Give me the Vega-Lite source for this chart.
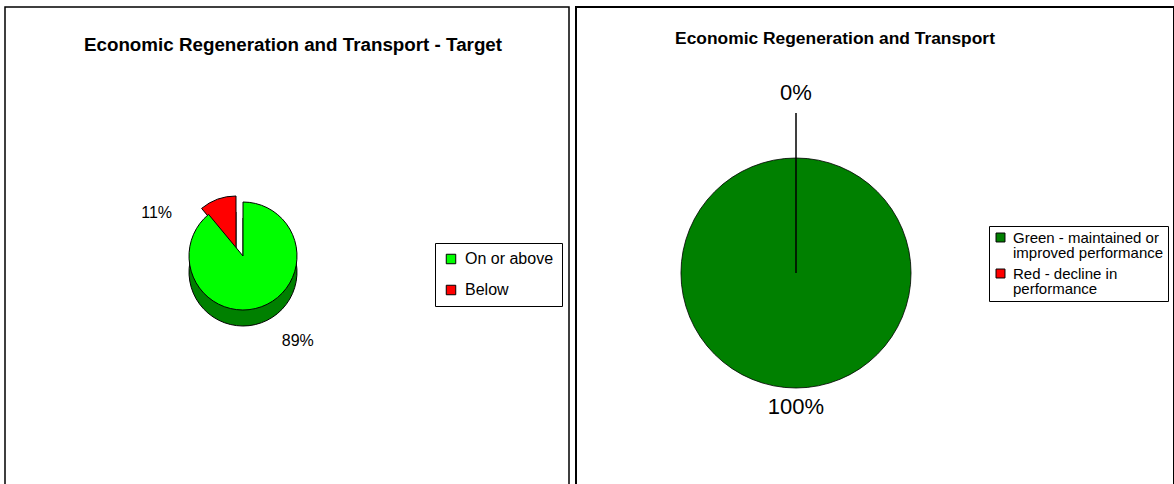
{
  "$schema": "https://vega.github.io/schema/vega-lite/v6.json",
  "padding": {"left": 4, "top": 6, "right": 0, "bottom": 0},
  "spacing": 5,
  "resolve": {"scale": {"color": "independent", "theta": "independent"}, "legend": {"color": "independent"}},
  "config": {
    "font": "Liberation Sans",
    "view": {"stroke": "black", "strokeWidth": 1.5},
    "title": {"font": "Liberation Sans", "fontWeight": "bold", "fontSize": 17, "color": "black"},
    "style": {"guide-label": {"lineHeight": 15}}
  },
  "datasets": {
    "target": [
      {"cat": "On or above", "pct": 89, "ord": 1, "label": "89%"},
      {"cat": "Below", "pct": 11, "ord": 2, "label": "11%"}
    ],
    "perf": [
      {"status": "Red - decline in performance", "pct": 0, "ord": 1, "label": "0%"},
      {"status": "Green - maintained or improved performance", "pct": 100, "ord": 2, "label": "100%"}
    ]
  },
  "hconcat": [
    {
      "width": 564,
      "height": 480,
      "data": {"name": "target"},
      "title": {"text": "Economic Regeneration and Transport - Target", "frame": "group", "offset": -48, "dx": 6, "fontSize": 18.8},
      "view": {"stroke": "black", "strokeWidth": 1.5},
      "layer": [
        {
          "mark": {"type": "arc", "radius": 54, "xOffset": -51, "yOffset": 19, "stroke": "black", "strokeWidth": 1, "fill": "#800000"},
          "encoding": {
            "theta": {"field": "pct", "type": "quantitative", "stack": true},
            "order": {"field": "ord"},
            "opacity": {"condition": {"test": "datum.cat === 'Below'", "value": 1}, "value": 0}
          }
        },
        {
          "mark": {"type": "arc", "radius": 54, "xOffset": -44, "yOffset": 25, "stroke": "black", "strokeWidth": 1, "fill": "#008000"},
          "encoding": {
            "theta": {"field": "pct", "type": "quantitative", "stack": true},
            "order": {"field": "ord"},
            "opacity": {"condition": {"test": "datum.cat === 'Below'", "value": 0}, "value": 1}
          }
        },
        {
          "mark": {"type": "arc", "radius": 54, "xOffset": -51, "yOffset": 3, "stroke": "black", "strokeWidth": 1},
          "encoding": {
            "theta": {"field": "pct", "type": "quantitative", "stack": true},
            "order": {"field": "ord"},
            "color": {
              "field": "cat", "type": "nominal", "title": null,
              "scale": {"domain": ["On or above", "Below"], "range": ["#00FF00", "#FF0000"]},
              "legend": {
                "orient": "none", "legendX": 430, "legendY": 236,
                "strokeColor": "black", "fillColor": "white", "padding": 8,
                "symbolType": "square", "symbolSize": 90, "symbolStrokeColor": "black", "symbolStrokeWidth": 1,
                "labelFontSize": 16, "labelFont": "Liberation Sans", "labelColor": "black", "labelOffset": 6,
                "rowPadding": 15, "labelLimit": 300
              }
            },
            "opacity": {"condition": {"test": "datum.cat === 'Below'", "value": 1}, "value": 0}
          }
        },
        {
          "mark": {"type": "arc", "radius": 54, "xOffset": -44, "yOffset": 9, "stroke": "black", "strokeWidth": 1},
          "encoding": {
            "theta": {"field": "pct", "type": "quantitative", "stack": true},
            "order": {"field": "ord"},
            "color": {"field": "cat", "type": "nominal"},
            "opacity": {"condition": {"test": "datum.cat === 'Below'", "value": 0}, "value": 1}
          }
        },
        {
          "mark": {"type": "text", "radius": 60, "xOffset": -110, "yOffset": 22, "fontSize": 16, "font": "Liberation Sans", "color": "black", "baseline": "middle"},
          "encoding": {
            "theta": {"field": "pct", "type": "quantitative", "stack": true},
            "order": {"field": "ord"},
            "text": {"condition": {"test": "datum.cat === 'Below'", "field": "label"}, "value": ""}
          }
        },
        {
          "mark": {"type": "text", "radius": 85, "xOffset": -18, "yOffset": 14, "fontSize": 16, "font": "Liberation Sans", "color": "black", "baseline": "middle"},
          "encoding": {
            "theta": {"field": "pct", "type": "quantitative", "stack": true},
            "order": {"field": "ord"},
            "text": {"condition": {"test": "datum.cat === 'On or above'", "field": "label"}, "value": ""}
          }
        }
      ]
    },
    {
      "width": 598,
      "height": 480,
      "data": {"name": "perf"},
      "title": {"text": "Economic Regeneration and Transport", "frame": "group", "offset": -40, "dx": -40, "fontSize": 17.4},
      "view": {"stroke": "black", "strokeWidth": 2},
      "layer": [
        {
          "mark": {"type": "arc", "radius": 115, "xOffset": -79, "yOffset": 26, "stroke": "black", "strokeWidth": 0.8},
          "encoding": {
            "theta": {"field": "pct", "type": "quantitative", "stack": true},
            "order": {"field": "ord"},
            "color": {
              "field": "status", "type": "nominal", "title": null,
              "scale": {"domain": ["Green - maintained or improved performance", "Red - decline in performance"], "range": ["#008000", "#FF0000"]},
              "legend": {
                "orient": "none", "legendX": 413, "legendY": 219,
                "strokeColor": "black", "fillColor": "white", "padding": 4,
                "symbolType": "square", "symbolSize": 80, "symbolStrokeColor": "black", "symbolStrokeWidth": 1,
                "labelFontSize": 15, "labelFont": "Liberation Sans", "labelColor": "black", "labelOffset": 5,
                "labelExpr": "datum.label === 'Green - maintained or improved performance' ? ['Green - maintained or', 'improved performance'] : ['Red - decline in', 'performance']",
                "labelBaseline": "middle",
                "rowPadding": 5, "labelLimit": 300
              }
            }
          }
        },
        {
          "mark": {"type": "arc", "radius": 160, "xOffset": -79, "yOffset": 26, "stroke": "black", "fillOpacity": 0, "fill": "white"},
          "encoding": {
            "theta": {"field": "pct", "type": "quantitative", "stack": true},
            "order": {"field": "ord"},
            "strokeWidth": {"condition": {"test": "datum.pct === 0", "value": 1}, "value": 0}
          }
        },
        {
          "mark": {"type": "text", "radius": 180, "xOffset": -79, "yOffset": 26, "fontSize": 22, "font": "Liberation Sans", "color": "black", "baseline": "middle"},
          "encoding": {
            "theta": {"field": "pct", "type": "quantitative", "stack": true},
            "order": {"field": "ord"},
            "text": {"condition": {"test": "datum.pct === 0", "field": "label"}, "value": ""}
          }
        },
        {
          "mark": {"type": "text", "radius": 134, "xOffset": -79, "yOffset": 26, "fontSize": 22, "font": "Liberation Sans", "color": "black", "baseline": "middle"},
          "encoding": {
            "theta": {"field": "pct", "type": "quantitative", "stack": true},
            "order": {"field": "ord"},
            "text": {"condition": {"test": "datum.pct === 100", "field": "label"}, "value": ""}
          }
        }
      ]
    }
  ]
}
